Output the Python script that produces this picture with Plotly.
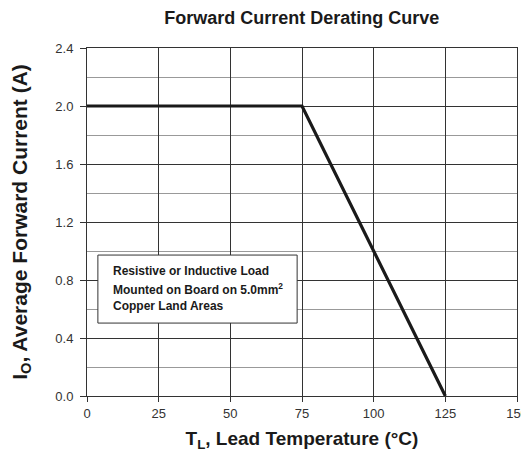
import plotly.graph_objects as go

temps = [0, 75, 125]
current = [2.0, 2.0, 0.0]
x_ticks = [0, 25, 50, 75, 100, 125, 150]
y_ticks = [0.0, 0.4, 0.8, 1.2, 1.6, 2.0, 2.4]
y_tick_labels = ["0.0", "0.4", "0.8", "1.2", "1.6", "2.0", "2.4"]
note_lines = ["Resistive or Inductive Load", "Mounted on Board on 5.0mm<sup>2</sup>", "Copper Land Areas"]
note_y = [0.86, 0.735, 0.62]

FONT = "Liberation Sans, Arial"

fig = go.Figure()
fig.add_trace(go.Scatter(x=temps, y=current, mode="lines",
                         line=dict(color="#1a1a1a", width=3.2), showlegend=False))

fig.add_shape(type="rect", x0=3.8, x1=73.3, y0=0.503, y1=0.972,
              xref="x", yref="y", fillcolor="white",
              line=dict(color="#333333", width=1), layer="above")
for txt, yy in zip(note_lines, note_y):
    fig.add_annotation(x=8.5, y=yy, xref="x", yref="y", xanchor="left", yanchor="middle",
                       text="<b>" + txt + "</b>", showarrow=False, align="left",
                       font=dict(family=FONT, size=12, color="#1a1a1a"))

fig.update_layout(
    width=521, height=446,
    margin=dict(l=79, r=12, t=40, b=58, autoexpand=False),
    paper_bgcolor="white", plot_bgcolor="white",
    title=dict(text="<b>Forward Current Derating Curve</b>", x=0.564, xanchor="center",
               y=0.978, yanchor="middle", automargin=False,
               font=dict(family=FONT, size=18, color="#1a1a1a")),
    xaxis=dict(range=[0, 150], tickvals=x_ticks, ticks="outside", ticklen=5,
               tickcolor="#333", showgrid=True, gridcolor="#333", gridwidth=1,
               showline=True, linecolor="#333", mirror=True, zeroline=False,
               automargin=False, ticklabeloverflow="allow",
               tickfont=dict(family=FONT, size=13, color="#333"),
               title=dict(text="<b>T<sub>L</sub>, Lead Temperature (°C)</b>", standoff=12,
                          font=dict(family=FONT, size=19, color="#1a1a1a"))),
    yaxis=dict(range=[0, 2.4], tickvals=y_ticks, ticktext=y_tick_labels, ticks="outside",
               ticklen=6, tickcolor="#333", showgrid=True, gridcolor="#333", gridwidth=1,
               showline=True, linecolor="#333", mirror=True, zeroline=False,
               automargin=False, ticklabeloverflow="allow", ticklabelstandoff=4,
               minor=dict(dtick=0.2, showgrid=True, gridcolor="#999", gridwidth=1),
               tickfont=dict(family=FONT, size=13, color="#333"),
               title=dict(text="<b>I<sub>O</sub>, Average Forward Current (A)</b>", standoff=25,
                          font=dict(family=FONT, size=21, color="#1a1a1a"))),
)

fig.write_html("out.html")
